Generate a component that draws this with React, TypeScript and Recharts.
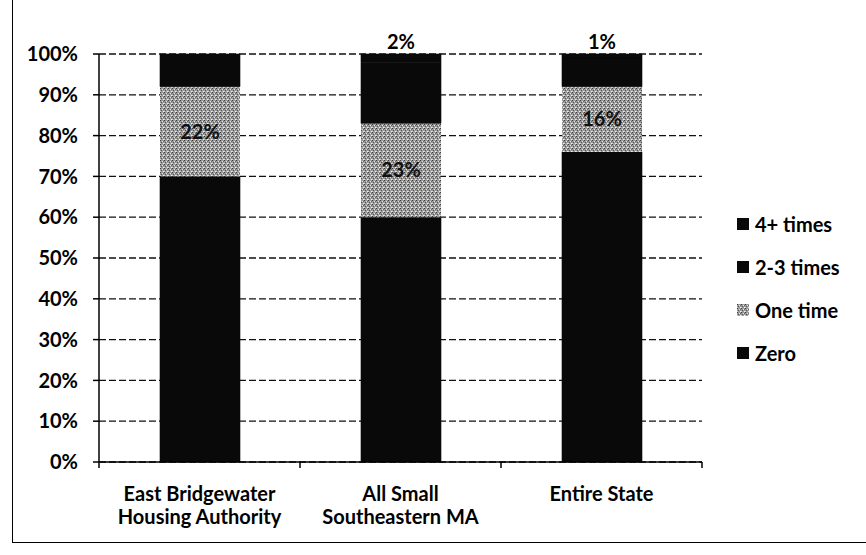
import React from "react";
import { BarChart, Bar, XAxis, YAxis, CartesianGrid, Legend, LabelList } from "recharts";

const categories = ["East Bridgewater\nHousing Authority", "All Small\nSoutheastern MA", "Entire State"];
const zero = [70, 60, 76];
const oneTime = [22, 23, 16];
const twoThree = [8, 15, 7];
const fourPlus = [0, 2, 1];
const yTicks = [0, 10, 20, 30, 40, 50, 60, 70, 80, 90, 100];

const seriesNames = { zero: "Zero", oneTime: "One time", twoThree: "2-3 times", fourPlus: "4+ times" };
const legendOrder = ["4+ times", "2-3 times", "One time", "Zero"];

const data = categories.map((c, i) => ({
  name: c,
  zero: zero[i],
  oneTime: oneTime[i],
  twoThree: twoThree[i],
  fourPlus: fourPlus[i],
}));

const W = 866;
const H = 555;
const M = { top: 54, right: 164, bottom: 33, left: 12 };
const Y_W = 87;
const X_H = 60;
const FONT = "Lato, 'Open Sans', sans-serif";
const DARK = "#090909";
const band = (W - M.left - M.right - Y_W) / categories.length;

const CatTick = (props: any) => {
  const { x, y, payload, index } = props;
  const lines = String(payload.value).split("\n");
  return (
    <g>
      {index === 0 && <line x1={x - band / 2} x2={x - band / 2} y1={y} y2={y + 6} stroke="#000" strokeWidth={1.5} />}
      <line x1={x + band / 2} x2={x + band / 2} y1={y} y2={y + 6} stroke="#000" strokeWidth={1.5} />
      <text x={x} y={y + 34} textAnchor="middle" dominantBaseline="middle" fontFamily={FONT} fontWeight={700} fontSize={20} fill="#000">
        {lines.map((l, i) => (
          <tspan key={i} x={x} dy={i === 0 ? 0 : 23}>
            {l}
          </tspan>
        ))}
      </text>
    </g>
  );
};

const LegendContent = (props: any) => {
  const items = [...(props.payload || [])].sort(
    (a: any, b: any) => legendOrder.indexOf(a.value) - legendOrder.indexOf(b.value)
  );
  return (
    <div style={{ fontFamily: FONT, fontWeight: 700, fontSize: 20, color: "#000" }}>
      {items.map((e: any) => (
        <div key={e.value} style={{ height: 43, display: "flex", alignItems: "center" }}>
          <svg width={12} height={12} style={{ marginRight: 6 }}>
            <rect width={12} height={12} fill={e.color} />
          </svg>
          <span>{e.value}</span>
        </div>
      ))}
    </div>
  );
};

export default function App() {
  return (
    <div style={{ position: "absolute", left: 0, top: 0, width: W, height: H, background: "#fff", overflow: "hidden" }}>
      <div style={{ position: "absolute", left: 12, top: -5, width: 900, height: 548, border: "1.5px solid #000", boxSizing: "border-box" }} />
      <div style={{ position: "absolute", left: 0, top: 0 }}>
        <BarChart width={W} height={H} data={data} margin={M}>
          <defs>
            <pattern id="speckle" width="4" height="4" patternUnits="userSpaceOnUse">
              <rect width="4" height="4" fill="#9a9a9a" />
              <rect x="0" y="0" width="1" height="1" fill="#3a3a3a" />
              <rect x="2" y="1" width="1" height="1" fill="#e6e6e6" />
              <rect x="1" y="2" width="1" height="1" fill="#555" />
              <rect x="3" y="3" width="1" height="1" fill="#f0f0f0" />
              <rect x="3" y="1" width="1" height="1" fill="#6a6a6a" />
              <rect x="0" y="3" width="1" height="1" fill="#cfcfcf" />
            </pattern>
          </defs>
          <CartesianGrid vertical={false} stroke="#111" strokeDasharray="7 3" strokeWidth={1.3} />
          <XAxis
            dataKey="name"
            height={X_H}
            tickSize={0}
            tickMargin={0}
            tick={<CatTick />}
            interval={0}
            axisLine={{ stroke: "#000", strokeWidth: 1.5 }}
          />
          <YAxis
            width={Y_W}
            domain={[0, 100]}
            ticks={yTicks}
            interval={0}
            tickFormatter={(v: number) => `${v}%`}
            tickSize={6}
            tickMargin={15}
            tickLine={{ stroke: "#000", strokeWidth: 1.5 }}
            axisLine={{ stroke: "#000", strokeWidth: 1.5 }}
            tick={{ fontFamily: FONT, fontWeight: 700, fontSize: 20, fill: "#000" }}
          />
          <Legend
            layout="horizontal"
            align="center"
            verticalAlign="middle"
            content={<LegendContent />}
            wrapperStyle={{ left: 737, top: 202, width: 125 }}
          />
          <Bar dataKey="zero" name={seriesNames.zero} stackId="a" fill={DARK} stroke={DARK} strokeWidth={0.6} barSize={80} isAnimationActive={false} />
          <Bar dataKey="oneTime" name={seriesNames.oneTime} stackId="a" fill="url(#speckle)" barSize={80} isAnimationActive={false}>
            <LabelList
              dataKey="oneTime"
              position="center"
              formatter={(v: any) => `${v}%`}
              style={{ fontFamily: FONT, fontWeight: 700, fontSize: 20, fill: "#111" }}
            />
          </Bar>
          <Bar dataKey="twoThree" name={seriesNames.twoThree} stackId="a" fill={DARK} stroke={DARK} strokeWidth={0.6} barSize={80} isAnimationActive={false} />
          <Bar dataKey="fourPlus" name={seriesNames.fourPlus} stackId="a" fill={DARK} stroke={DARK} strokeWidth={0.6} barSize={80} isAnimationActive={false}>
            <LabelList
              dataKey="fourPlus"
              position="top"
              formatter={(v: any) => (v ? `${v}%` : "")}
              style={{ fontFamily: FONT, fontWeight: 700, fontSize: 20, fill: "#000" }}
            />
          </Bar>
        </BarChart>
      </div>
    </div>
  );
}
